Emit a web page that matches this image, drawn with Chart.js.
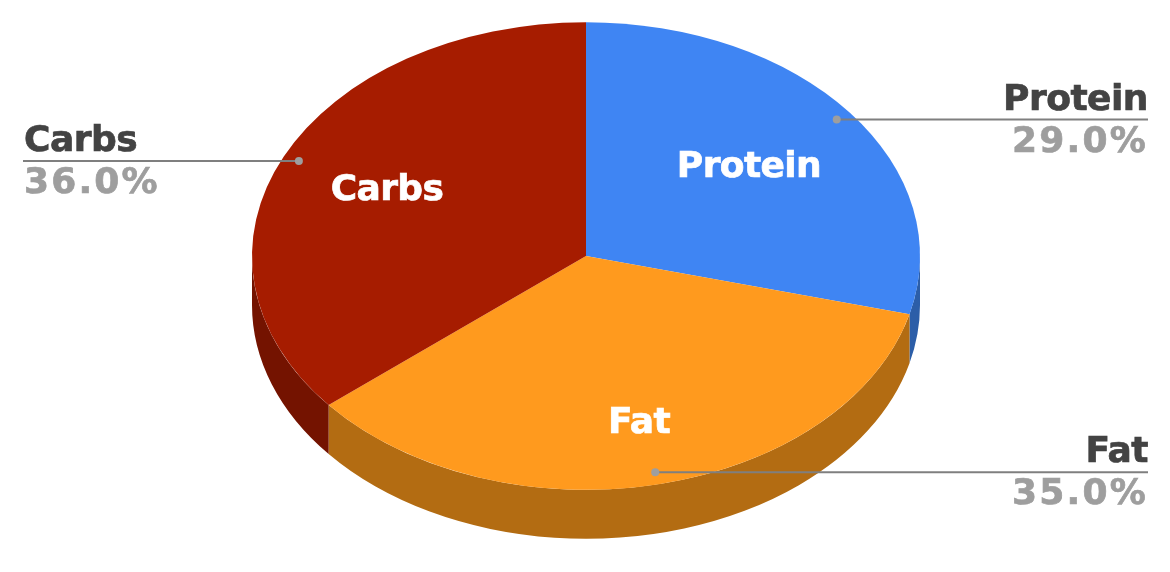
<!DOCTYPE html>
<html>
<head>
<meta charset="utf-8">
<style>
  html, body { margin: 0; padding: 0; background: #fff; overflow: hidden; }
  #clip { width: 1170px; height: 572px; overflow: hidden; }
  #wrap { width: 1170px; height: 668px; }
</style>
<script src="https://cdn.jsdelivr.net/npm/chart.js@4"></script>
</head>
<body>
<div id="clip"><div id="wrap"><canvas id="pie"></canvas></div></div>
<script>
const categories = ['Protein', 'Fat', 'Carbs'];
const values = [29, 35, 36];
const colors = ['#3f85f3', '#ff9a1e', '#a61c00'];
const sideColors = ['#2c5ea8', '#b36c12', '#741300'];

// text layout for the outside labels and the labels on the slices
const outside = [
  { end: 1148, textX: 1148, align: 'right', nameY: 110, pctY: 152 },
  { end: 1148, textX: 1148, align: 'right', nameY: 462, pctY: 504 },
  { end: 23, textX: 24, align: 'left', nameY: 151, pctY: 193 }
];
const inside = [[749, 177], [639, 433], [387, 200]];

const cx = 586, cy = 256, squash = 0.7, depth = 49;
const labelFont = 'bold 36px "DejaVu Sans"';

// chart.js only draws flat arcs, so squash the canvas while it draws them
function tilt(ctx, arc) {
  ctx.translate(cx, cy);
  ctx.scale(1, squash);
  ctx.translate(-arc.x, -arc.y);
}

function drawText(ctx, text, x, y, color, spacing) {
  ctx.font = labelFont;
  ctx.letterSpacing = spacing + 'px';
  ctx.fillStyle = color;
  ctx.strokeStyle = color;
  ctx.lineWidth = 0.7;
  ctx.fillText(text, x, y);
  ctx.strokeText(text, x, y);
  ctx.letterSpacing = '0px';
}

const tiltedPie = {
  id: 'tiltedPie',
  beforeDatasetDraw(chart) {
    const ctx = chart.ctx;
    const arcs = chart.getDatasetMeta(0).data;
    // rim: only the part of each slice on the front half is visible
    arcs.forEach((arc, i) => {
      const from = Math.max(arc.startAngle, 0);
      const to = Math.min(arc.endAngle, Math.PI);
      if (to <= from) return;
      const rx = arc.outerRadius, ry = arc.outerRadius * squash;
      ctx.fillStyle = sideColors[i];
      ctx.beginPath();
      ctx.ellipse(cx, cy, rx, ry, 0, from, to);
      ctx.ellipse(cx, cy + depth, rx, ry, 0, to, from, true);
      ctx.closePath();
      ctx.fill();
    });
    ctx.save();
    tilt(ctx, arcs[0]);
  },
  afterDatasetDraw(chart) {
    chart.ctx.restore();
  },
  afterDraw(chart) {
    const ctx = chart.ctx;
    const arcs = chart.getDatasetMeta(0).data;
    ctx.textBaseline = 'alphabetic';
    categories.forEach((name, i) => {
      const o = outside[i];
      const arc = arcs[i];
      const mid = (arc.startAngle + arc.endAngle) / 2;
      const dotX = cx + Math.cos(mid) * arc.outerRadius * 0.95;
      const dotY = cy + Math.sin(mid) * arc.outerRadius * 0.95 * squash - 0.4;

      ctx.strokeStyle = '#7f7f7f';
      ctx.lineWidth = 2;
      ctx.beginPath();
      ctx.moveTo(dotX, dotY);
      ctx.lineTo(o.end, dotY);
      ctx.stroke();
      ctx.fillStyle = '#9e9e9e';
      ctx.beginPath();
      ctx.arc(dotX, dotY, 4, 0, Math.PI * 2);
      ctx.fill();

      ctx.textAlign = o.align;
      drawText(ctx, name, o.textX, o.nameY, '#434343', -0.5);
      drawText(ctx, values[i].toFixed(1) + '%', o.textX, o.pctY, '#9e9e9e', 2.2);

      ctx.textAlign = 'center';
      drawText(ctx, name, inside[i][0], inside[i][1], '#ffffff', -0.6);
    });
  }
};

new Chart(document.getElementById('pie'), {
  type: 'pie',
  data: {
    labels: categories,
    datasets: [{
      data: values,
      backgroundColor: colors,
      borderWidth: 0
    }]
  },
  options: {
    responsive: true,
    maintainAspectRatio: false,
    animation: false,
    layout: { padding: { left: 252, right: 250, top: 0, bottom: 0 } },
    plugins: {
      legend: { display: false },
      tooltip: { enabled: false }
    }
  },
  plugins: [tiltedPie]
});
</script>
</body>
</html>
